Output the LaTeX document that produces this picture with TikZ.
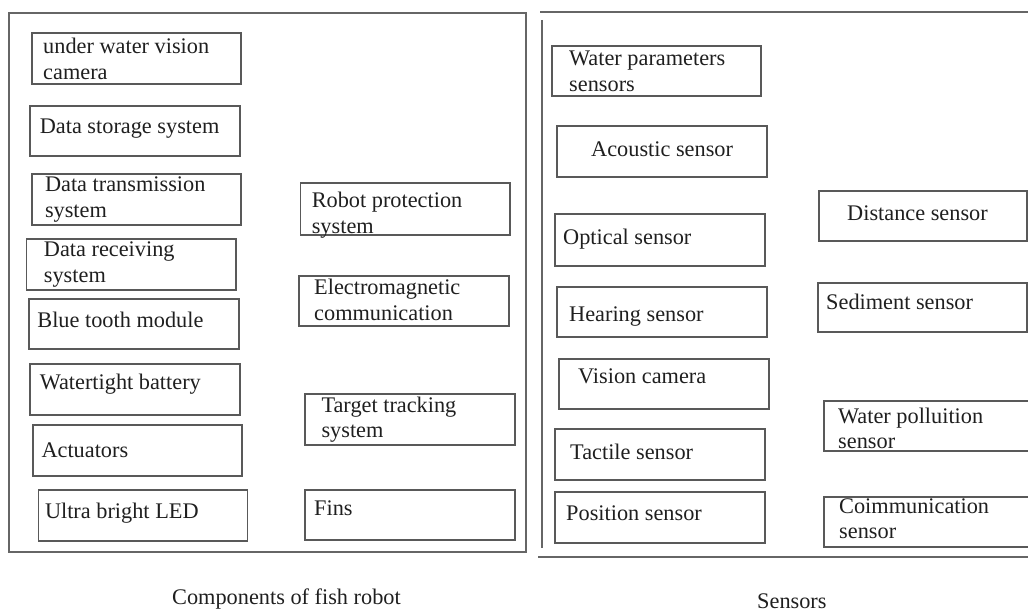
\documentclass[tikz,border=0pt]{standalone}
\usepackage{fontspec}
\setmainfont{Liberation Serif}
\tikzset{
  frame/.style={draw=black!60, line width=1.4pt},
  box/.style={draw=black!65, line width=1.3pt},
  lbl/.style={anchor=base west, inner sep=0pt, align=left, text=black!88,
              font=\fontsize{22.3}{25.5}\selectfont},
  caption/.style={anchor=base west, inner sep=0pt, text=black!88,
              font=\fontsize{22.3}{25.5}\selectfont},
}
% \cell{name}{x1}{y1}{x2}{y2}{text x}{baseline of last text line}{text}
\newcommand\cell[8]{%
  \draw[box] (#2,#3) rectangle (#4,#5);
  \node[lbl] (#1) at (#6,#7) {#8};}

\begin{document}
\begin{tikzpicture}[x=1pt,y=-1pt]
\useasboundingbox (0,0) rectangle (1028,612);
\clip (0,0) rectangle (1028,612);

% ---- components frame ----
\draw[frame] (9,13) rectangle (526,552);

\cell{cam}{32}{33}{241}{84}{43}{79.5}{under water vision\\camera}
\cell{store}{30}{106}{240}{156}{39.6}{134}{Data storage system}
\cell{trans}{32}{174}{241}{225}{44.8}{217.5}{Data transmission\\system}
\cell{recv}{26.5}{239}{236}{290}{43.7}{282.5}{Data receiving\\system}
\cell{blue}{29}{299}{239}{349}{37.2}{327}{Blue tooth module}
\cell{batt}{30}{364}{240}{415}{39.6}{389}{Watertight battery}
\cell{act}{33}{425}{242}{476}{41.3}{457}{Actuators}
\cell{led}{38.5}{490}{247.6}{541}{44.8}{518}{Ultra bright LED}

\cell{prot}{300.6}{183}{510}{235}{311.6}{233.5}{Robot protection\\system}
\cell{emc}{299}{276}{509}{326}{314}{320.5}{Electromagnetic\\communication}
\cell{track}{305}{394}{515}{445}{321.3}{437.5}{Target tracking\\system}
\cell{fins}{305}{490}{515}{540}{314}{515}{Fins}

\node[caption] (capA) at (172,604) {Components of fish robot};

% ---- sensors frame (open on the right) ----
\draw[frame] (540,12) -- (1032,12);
\draw[frame] (542,20) -- (542,548);
\draw[frame] (538,557) -- (1032,557);

\cell{wpar}{552}{46}{761}{96}{569}{91.5}{Water parameters\\sensors}
\cell{acou}{557}{126}{767}{177}{591}{157}{Acoustic sensor}
\cell{opt}{555}{214}{765}{266}{563}{245}{Optical sensor}
\cell{hear}{557}{287}{767}{337}{569}{321}{Hearing sensor}
\cell{vis}{559}{359}{769}{409}{578}{383}{Vision camera}
\cell{tact}{555}{429}{765}{480}{570}{459}{Tactile sensor}
\cell{pos}{555}{492}{765}{543}{566}{520}{Position sensor}

\cell{dist}{819}{191}{1027}{241}{847}{221}{Distance sensor}
\cell{sed}{818}{283}{1027}{332}{826}{310}{Sediment sensor}
\cell{poll}{824}{401}{1034}{451}{838}{448.5}{Water polluition\\sensor}
\cell{comm}{824}{497}{1034}{547}{839}{538.5}{Coimmunication\\sensor}

\node[caption] (capB) at (757,608) {Sensors};
\end{tikzpicture}
\end{document}
